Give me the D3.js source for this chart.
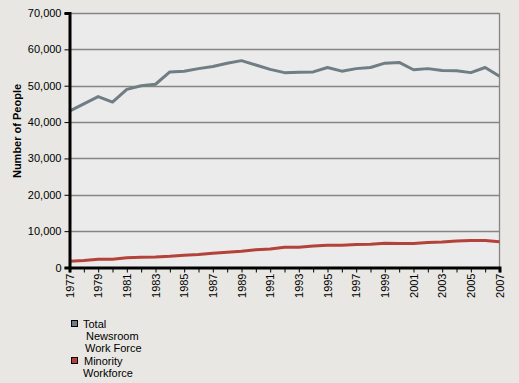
<!DOCTYPE html>
<html><head><meta charset="utf-8">
<script src="https://cdn.jsdelivr.net/npm/d3@7"></script>
<style>
html,body{margin:0;padding:0;background:#e8e7e3;}
svg{display:block;font-family:"Liberation Sans",Arial,sans-serif;}
</style></head>
<body><svg id="c" width="519" height="383"></svg>
<script>
const years = d3.range(1977, 2008);
const totalWorkforce = [43000,45000,47000,45500,49000,50000,50400,53800,54000,54700,55300,56200,56900,55700,54500,53600,53700,53800,55000,54000,54700,55000,56200,56400,54400,54700,54200,54100,53600,55000,52600];
const minorityWorkforce = [1700,1900,2300,2300,2700,2800,2900,3100,3400,3600,3900,4200,4500,4900,5100,5600,5600,5900,6100,6100,6300,6400,6700,6600,6600,6900,7000,7300,7400,7400,7100];
const yTicks = [0,10000,20000,30000,40000,50000,60000,70000];
const xTickLabels = years.filter(y => (y - 1977) % 2 === 0);
const seriesNames = [["Total","Newsroom","Work Force"],["Minority","Workforce"]];
const seriesColors = ["#6f7e84","#b3423a"];

const svg = d3.select("#c");
const L = 69.5, R = 499.5, T = 13, B = 267.5;
const x = d3.scaleLinear().domain([1977, 2007]).range([L, R]);
const y = d3.scaleLinear().domain([0, 70000]).range([B, T]);

svg.append("rect").attr("x", L).attr("y", T).attr("width", R - L).attr("height", B - T).attr("fill", "#ebebeb");

// gridlines
svg.append("g").selectAll("line").data(yTicks.filter(d => d > 0)).join("line")
  .attr("x1", L).attr("x2", R).attr("y1", d => Math.round(y(d)) + 0.5).attr("y2", d => Math.round(y(d)) + 0.5)
  .attr("stroke", "#858585").attr("stroke-width", 1.3);
// right border
svg.append("line").attr("x1", R).attr("x2", R).attr("y1", T).attr("y2", B).attr("stroke", "#858585").attr("stroke-width", 1.3);

// lines
const line = d3.line().x((d, i) => x(years[i])).y(d => y(d));
[totalWorkforce, minorityWorkforce].forEach((s, k) => {
  svg.append("path").datum(s).attr("d", line).attr("fill", "none")
    .attr("stroke", seriesColors[k]).attr("stroke-width", 3).attr("stroke-linejoin", "round");
});

// y axis
const yAxis = svg.append("g").attr("transform", `translate(${L},0)`)
  .call(d3.axisLeft(y).tickValues(yTicks).tickSize(5).tickPadding(3).tickFormat(d3.format(",")));
yAxis.select(".domain").attr("stroke", "#000").attr("stroke-width", 3);
yAxis.selectAll(".tick line").attr("stroke", "#000");
yAxis.selectAll("text").attr("font-size", 11).attr("fill", "#000").attr("font-family", "Liberation Sans, Arial, sans-serif");

// x axis
const xAxis = svg.append("g").attr("transform", `translate(0,${B})`)
  .call(d3.axisBottom(x).tickValues(years).tickSize(5).tickFormat(""));
xAxis.select(".domain").attr("stroke", "#000").attr("stroke-width", 3);
xAxis.selectAll(".tick line").attr("stroke", "#000");
svg.append("g").selectAll("text").data(xTickLabels).join("text")
  .attr("transform", d => `translate(${x(d) + 4},${B + 6}) rotate(-90)`)
  .attr("text-anchor", "end").attr("font-size", 11).attr("fill", "#000")
  .text(d => d);

// y label
svg.append("text").attr("transform", `translate(21,131) rotate(-90)`)
  .attr("text-anchor", "middle").attr("font-size", 11).attr("font-weight", "bold").text("Number of People");

// legend
const legendRows = [{y: 320, lines: seriesNames[0], indent: [12, 15, 14]}, {y: 357, lines: seriesNames[1], indent: [13, 12]}];
legendRows.forEach((r, k) => {
  svg.append("rect").attr("x", 71.5).attr("y", r.y + 0.5).attr("width", 6).attr("height", 6)
    .attr("fill", seriesColors[k]).attr("stroke", "#000").attr("stroke-width", 1);
  r.lines.forEach((t, j) => {
    svg.append("text").attr("x", 71 + r.indent[j]).attr("y", r.y + 8 + j * 12)
      .attr("font-size", 11).attr("fill", "#000").text(t);
  });
});
</script></body></html>
